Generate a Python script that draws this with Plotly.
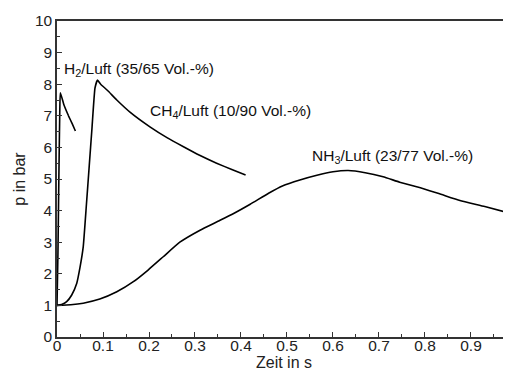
import plotly.graph_objects as go

# H2/Luft (35/65 Vol.-%)
h2_t = [0.0, 0.002, 0.004, 0.006, 0.0073, 0.015, 0.025, 0.033, 0.04]
h2_p = [1.0, 2.6, 5.0, 7.1, 7.73, 7.35, 7.0, 6.75, 6.52]

# CH4/Luft (10/90 Vol.-%)
ch4_t = [0.0, 0.01, 0.021, 0.032, 0.043, 0.05, 0.057, 0.064, 0.07, 0.076, 0.0826, 0.088,
         0.095, 0.11, 0.13, 0.16, 0.202, 0.24, 0.275, 0.31, 0.347, 0.38, 0.41]
ch4_p = [1.0, 1.03, 1.12, 1.33, 1.7, 2.2, 2.85, 4.2, 5.4, 6.6, 7.88, 8.13,
         8.0, 7.8, 7.5, 7.1, 6.65, 6.3, 6.02, 5.75, 5.5, 5.3, 5.13]

# NH3/Luft (23/77 Vol.-%)
nh3_t = [0.0, 0.03, 0.057, 0.093, 0.13, 0.166, 0.198, 0.231, 0.267, 0.311, 0.35, 0.383,
         0.42, 0.46, 0.49, 0.528, 0.565, 0.6, 0.633, 0.67, 0.709, 0.745, 0.79, 0.83,
         0.876, 0.93, 0.987]
nh3_p = [1.0, 1.02, 1.07, 1.2, 1.43, 1.75, 2.12, 2.54, 3.0, 3.38, 3.66, 3.9,
         4.2, 4.55, 4.78, 4.97, 5.12, 5.23, 5.27, 5.2, 5.07, 4.9, 4.72, 4.54,
         4.32, 4.13, 3.91]

labels = ["H<sub>2</sub>/Luft (35/65 Vol.-%)",
          "CH<sub>4</sub>/Luft (10/90 Vol.-%)",
          "NH<sub>3</sub>/Luft (23/77 Vol.-%)"]
label_t = [0.011, 0.198, 0.55]
label_p = [8.48, 7.13, 5.71]

FONT = "Liberation Sans, Arial, sans-serif"

fig = go.Figure()
for t, p in [(h2_t, h2_p), (ch4_t, ch4_p), (nh3_t, nh3_p)]:
    fig.add_trace(go.Scatter(x=t, y=p, mode="lines",
                             line=dict(color="black", width=1.6, shape="spline", smoothing=0.4),
                             showlegend=False, hoverinfo="skip"))

for txt, x, y in zip(labels, label_t, label_p):
    fig.add_annotation(x=x, y=y, text=txt, showarrow=False, xanchor="left", yanchor="middle",
                       font=dict(family=FONT, size=15.5, color="#111"))

axis_common = dict(showgrid=False, zeroline=False, showline=True, linecolor="#333",
                   linewidth=1.5, ticks="inside", ticklen=5, tickwidth=1, tickcolor="#333",
                   automargin=False,
                   tickfont=dict(family=FONT, size=15.5, color="#222"))

fig.update_xaxes(range=[0, 0.987], dtick=0.1, tick0=0, mirror=True, ticklabelstandoff=-6,
                 minor=dict(dtick=0.05, ticks="inside", ticklen=3, tickcolor="#333"),
                 title=dict(text="Zeit in s", font=dict(family=FONT, size=16, color="#222"), standoff=0),
                 **axis_common)
fig.update_yaxes(range=[0, 10], dtick=1, tick0=0,
                 minor=dict(dtick=0.5, ticks="inside", ticklen=3, tickcolor="#333"),
                 title=dict(text="p in bar", font=dict(family=FONT, size=16, color="#222"), standoff=5),
                 **axis_common)

# page body has an 8px default margin; compensate so plot area lands where the reference has it
fig.update_layout(width=503, height=364, margin=dict(l=49, r=0, t=13, b=35),
                  paper_bgcolor="white", plot_bgcolor="white")

fig.write_html("out.html")
